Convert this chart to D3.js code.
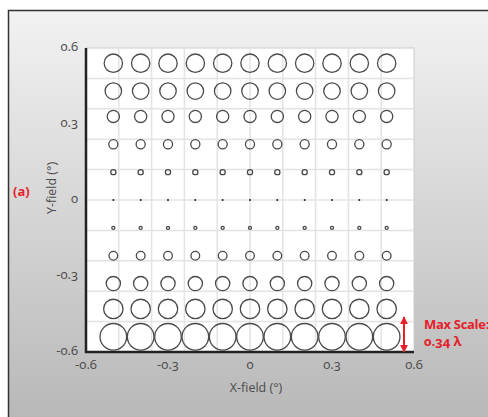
<!DOCTYPE html>
<html>
<head>
<meta charset="utf-8">
<style>
  body { margin: 0; background: #fff; }
  svg text { font-family: "Open Sans", "Lato", sans-serif; font-variant-numeric: oldstyle-nums; }
</style>
</head>
<body>
  <svg id="svg" width="488" height="417"></svg>

  <script src="https://cdnjs.cloudflare.com/ajax/libs/d3/7.8.5/d3.min.js"></script>
  <script type="text/javascript">
  // field points (deg)
  const xField = [-0.5, -0.4, -0.3, -0.2, -0.1, 0, 0.1, 0.2, 0.3, 0.4, 0.5];
  const yField = [0.54, 0.43, 0.33, 0.22, 0.11, 0, -0.11, -0.22, -0.33, -0.43, -0.54];
  // spot size per row, in waves (same across a row)
  const spotSize = [0.19, 0.172, 0.13, 0.1, 0.062, 0.022, 0.042, 0.096, 0.15, 0.2, 0.27];
  const maxScale = 0.34;
  const tickVals = [-0.6, -0.3, 0, 0.3, 0.6];
  const gridVals = [-0.48, -0.36, -0.24, -0.12, 0, 0.12, 0.24, 0.36, 0.48];

  const svg = d3.select("#svg");
  const red = "#e5202b", ink = "#4a4a4a";
  const fmt = d => d3.format("")(d).replace("−", "-");

  // panel background
  const grad = svg.append("defs").append("linearGradient")
    .attr("id", "bg").attr("x1", 0).attr("y1", 0).attr("x2", 0).attr("y2", 1);
  grad.append("stop").attr("offset", "0%").attr("stop-color", "#f2f2f2");
  grad.append("stop").attr("offset", "100%").attr("stop-color", "#b7b7b7");
  svg.append("rect")
    .attr("x", 8.5).attr("y", 10.5).attr("width", 490).attr("height", 415)
    .attr("fill", "url(#bg)").attr("stroke", "#333").attr("stroke-width", 1.5);

  const L = 86, R = 414, T = 48, B = 352;
  const x = d3.scaleLinear().domain([-0.6, 0.6]).range([L, R]);
  const y = d3.scaleLinear().domain([-0.6, 0.6]).range([B, T]);
  const r = d3.scaleLinear().domain([0, maxScale]).range([0, 17.5]);

  svg.append("rect")
    .attr("x", L).attr("y", T).attr("width", R - L).attr("height", B - T)
    .attr("fill", "#fff").attr("stroke", "#ccc").attr("stroke-width", 1);

  // grid
  svg.append("g").selectAll("line").data(gridVals).join("line")
    .attr("x1", d => x(d)).attr("x2", d => x(d)).attr("y1", T).attr("y2", B)
    .attr("stroke", "#e3e3e3").attr("stroke-width", 1.5);
  svg.append("g").selectAll("line").data(gridVals).join("line")
    .attr("y1", d => y(d)).attr("y2", d => y(d)).attr("x1", L).attr("x2", R)
    .attr("stroke", "#e3e3e3").attr("stroke-width", 1.5);

  // axes lines
  svg.append("line").attr("x1", L).attr("x2", L).attr("y1", T).attr("y2", B + 1)
    .attr("stroke", "#222").attr("stroke-width", 2.5);
  svg.append("line").attr("x1", L - 1).attr("x2", R).attr("y1", B).attr("y2", B)
    .attr("stroke", "#222").attr("stroke-width", 2.5);

  // spots
  const cells = [];
  yField.forEach((yv, i) => xField.forEach(xv => cells.push({x: xv, y: yv, s: spotSize[i]})));
  svg.append("g").selectAll("circle").data(cells).join("circle")
    .attr("cx", d => x(d.x)).attr("cy", d => y(d.y))
    .attr("r", d => Math.max(r(d.s) - 0.6, 1))
    .attr("fill", d => r(d.s) < 1.5 ? "#222" : "none")
    .attr("stroke", d => r(d.s) < 1.5 ? "none" : ink)
    .attr("stroke-width", 1.3);

  // tick labels
  svg.append("g").selectAll("text").data(tickVals).join("text")
    .attr("x", d => x(d)).attr("y", B + 17)
    .attr("text-anchor", "middle").attr("fill", ink).style("font-size", "13px")
    .text(fmt);
  svg.append("g").selectAll("text").data(tickVals).join("text")
    .attr("x", L - 8).attr("y", d => y(d)).attr("dy", "0.2em")
    .attr("text-anchor", "end").attr("fill", ink).style("font-size", "13px")
    .text(fmt);

  // axis titles
  svg.append("text").attr("x", (L + R) / 2 + 6).attr("y", 392)
    .attr("text-anchor", "middle").attr("fill", ink).style("font-size", "12.5px")
    .text("X-field (°)");
  svg.append("text").attr("transform", `translate(56,${(T + B) / 2 - 12}) rotate(-90)`)
    .attr("text-anchor", "middle").attr("fill", ink).style("font-size", "12.5px")
    .text("Y-field (°)");

  svg.append("text").attr("x", 13).attr("y", 196)
    .attr("fill", red).style("font-size", "13px").style("font-weight", "bold")
    .text("(a)");

  // max scale arrow
  const defs = svg.select("defs");
  ["s", "e"].forEach(k => {
    defs.append("marker").attr("id", "ah" + k).attr("viewBox", "0 0 10 10")
      .attr("refX", 9).attr("refY", 5).attr("markerWidth", 4).attr("markerHeight", 4)
      .attr("orient", k == "s" ? "auto-start-reverse" : "auto")
      .append("path").attr("d", "M0,0L10,5L0,10z").attr("fill", red);
  });
  const ax = R - 10;
  svg.append("line").attr("x1", ax).attr("x2", ax)
    .attr("y1", B - 2 * r(maxScale)).attr("y2", B)
    .attr("stroke", red).attr("stroke-width", 2)
    .attr("marker-start", "url(#ahs)").attr("marker-end", "url(#ahe)");
  svg.append("text").attr("x", 424).attr("y", 329)
    .attr("fill", red).style("font-size", "13px").style("font-weight", "bold")
    .style("letter-spacing", "-0.3px")
    .text("Max Scale:");
  svg.append("text").attr("x", 424).attr("y", 346)
    .attr("fill", red).style("font-size", "13px").style("font-weight", "bold")
    .text(fmt(maxScale) + " λ");
  </script>
</body>
</html>
